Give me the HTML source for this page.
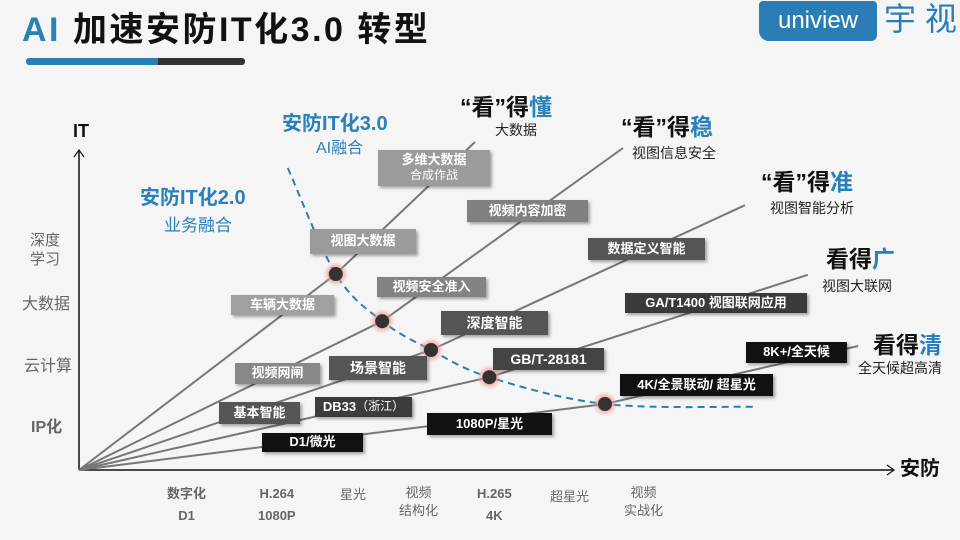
<!DOCTYPE html>
<html><head><meta charset="utf-8">
<style>
html,body{margin:0;padding:0;}
body{width:960px;height:540px;background:#f5f5f5;position:relative;overflow:hidden;font-family:"Liberation Sans","Noto Sans CJK SC",sans-serif;}
.t{position:absolute;white-space:nowrap;line-height:1;}
.box{position:absolute;color:#fff;font-weight:bold;font-size:13px;display:flex;align-items:center;justify-content:center;box-shadow:2px 2px 3px rgba(0,0,0,0.35);white-space:nowrap;line-height:1.15;text-align:center;}
.blue{color:#2a80b9;}
.head{font-weight:bold;font-size:23px;color:#111;}
.sub{font-size:14px;color:#222;}
.ax{color:#666;font-size:15px;text-align:center;}
</style></head><body>
<div class="t" style="left:22px;top:13px;font-size:34px;font-weight:bold;color:#111;letter-spacing:2.5px;"><span class="blue">AI</span> 加速安防IT化3.0 转型</div>
<div style="position:absolute;left:26px;top:58px;width:132px;height:7px;background:#2a7db5;border-radius:3px 0 0 3px;"></div>
<div style="position:absolute;left:158px;top:58px;width:87px;height:7px;background:#333;border-radius:0 3px 3px 0;"></div>
<div style="position:absolute;left:759px;top:1px;width:118px;height:40px;background:#2a7db5;border-radius:4px 4px 6px 10px;color:#fff;font-size:24px;display:flex;align-items:center;justify-content:center;">uniview</div>
<div class="t" style="left:884px;top:3px;font-size:32px;color:#2a7db5;">宇 视</div>

<svg id="chart" width="960" height="540" style="position:absolute;left:0;top:0;">
<defs><radialGradient id="glow"><stop offset="45%" stop-color="#e88" stop-opacity="0.8"/><stop offset="100%" stop-color="#f5b5b5" stop-opacity="0"/></radialGradient></defs>
<line x1="79" y1="470" x2="79" y2="150" stroke="#111" stroke-width="1.5"/>
<polyline points="74,157 79,150 84,157" fill="none" stroke="#111" stroke-width="1.2"/>
<line x1="79" y1="470" x2="893" y2="470" stroke="#111" stroke-width="1.5"/>
<polyline points="887,465 894,470 887,475" fill="none" stroke="#111" stroke-width="1.2"/>
<g id="lines"></g><g id="curve"></g><g id="dots"></g>
</svg>

<div class="t" style="left:73px;top:122px;font-size:18px;font-weight:bold;color:#111;">IT</div>
<div class="t" style="left:900px;top:459px;font-size:20px;font-weight:bold;color:#111;">安防</div>

<div class="t ax" style="left:30px;top:231px;line-height:19px;">深度<br>学习</div>
<div class="t ax" style="left:22px;top:297px;font-size:16px;">大数据</div>
<div class="t ax" style="left:24px;top:359px;font-size:16px;">云计算</div>
<div class="t ax" style="left:31px;top:420px;font-weight:bold;font-size:16px;">IP化</div>

<div class="t ax" style="left:167px;top:483px;font-size:13px;line-height:22px;font-weight:bold;">数字化<br>D1</div>
<div class="t ax" style="left:258px;top:483px;font-size:13px;line-height:22px;font-weight:bold;">H.264<br>1080P</div>
<div class="t ax" style="left:340px;top:488px;font-size:13px;">星光</div>
<div class="t ax" style="left:399px;top:484px;font-size:13px;line-height:18px;">视频<br>结构化</div>
<div class="t ax" style="left:477px;top:483px;font-size:13px;line-height:22px;font-weight:bold;">H.265<br>4K</div>
<div class="t ax" style="left:550px;top:490px;font-size:13px;">超星光</div>
<div class="t ax" style="left:624px;top:484px;font-size:13px;line-height:18px;">视频<br>实战化</div>

<div class="t blue" style="left:282px;top:114px;font-size:20px;font-weight:bold;">安防IT化3.0</div>
<div class="t blue" style="left:316px;top:141px;font-size:16px;">AI融合</div>
<div class="t blue" style="left:140px;top:188px;font-size:20px;font-weight:bold;">安防IT化2.0</div>
<div class="t blue" style="left:164px;top:217px;font-size:17px;">业务融合</div>

<div class="t head" style="left:460px;top:96px;">“看”得<span class="blue">懂</span></div>
<div class="t sub" style="left:495px;top:123px;">大数据</div>
<div class="t head" style="left:621px;top:116px;">“看”得<span class="blue">稳</span></div>
<div class="t sub" style="left:632px;top:146px;">视图信息安全</div>
<div class="t head" style="left:761px;top:171px;">“看”得<span class="blue">准</span></div>
<div class="t sub" style="left:770px;top:201px;">视图智能分析</div>
<div class="t head" style="left:826px;top:248px;">看得<span class="blue">广</span></div>
<div class="t sub" style="left:822px;top:279px;">视图大联网</div>
<div class="t head" style="left:873px;top:334px;">看得<span class="blue">清</span></div>
<div class="t sub" style="left:858px;top:361px;">全天候超高清</div>

<div class="box" style="left:378px;top:150px;width:112px;height:36px;background:#9b9b9b;"><div>多维大数据<br><span style="font-weight:normal;font-size:12px">合成作战</span></div></div>
<div class="box" style="left:467px;top:200px;width:121px;height:22px;background:#808080;">视频内容加密</div>
<div class="box" style="left:310px;top:229px;width:106px;height:25px;background:#9b9b9b;">视图大数据</div>
<div class="box" style="left:588px;top:238px;width:117px;height:22px;background:#555;">数据定义智能</div>
<div class="box" style="left:377px;top:277px;width:109px;height:20px;background:#838383;">视频安全准入</div>
<div class="box" style="left:231px;top:295px;width:103px;height:20px;background:#a0a0a0;">车辆大数据</div>
<div class="box" style="left:625px;top:293px;width:182px;height:20px;background:#3a3a3a;">GA/T1400 视图联网应用</div>
<div class="box" style="left:441px;top:311px;width:107px;height:24px;background:#555;font-size:14px;">深度智能</div>
<div class="box" style="left:493px;top:348px;width:111px;height:22px;background:#444;font-size:14px;">GB/T-28181</div>
<div class="box" style="left:235px;top:363px;width:85px;height:21px;background:#888;">视频网闸</div>
<div class="box" style="left:329px;top:356px;width:98px;height:24px;background:#555;font-size:14px;">场景智能</div>
<div class="box" style="left:746px;top:342px;width:101px;height:21px;background:#111;">8K+/全天候</div>
<div class="box" style="left:620px;top:374px;width:153px;height:22px;background:#111;">4K/全景联动/ 超星光</div>
<div class="box" style="left:219px;top:402px;width:81px;height:22px;background:#555;">基本智能</div>
<div class="box" style="left:315px;top:397px;width:97px;height:20px;background:#3c3c3c;">DB33<span style="font-weight:normal;font-size:12px">（浙江）</span></div>
<div class="box" style="left:427px;top:413px;width:125px;height:22px;background:#111;">1080P/星光</div>
<div class="box" style="left:262px;top:433px;width:101px;height:19px;background:#111;">D1/微光</div>

<script>
// Data coords: x 0..100 (security evolution), y 0..50 (IT level)
const lineNames = ['understand','stable','accurate','wide','clear'];
const markerX = [32.1, 37.9, 44.0, 51.3, 65.75];
const markerY = [24.5, 18.6, 15.0, 11.6, 8.25];
const endX = [49.5, 68.0, 83.25, 91.1, 97.4];
const endY = [41.0, 40.25, 33.1, 24.4, 15.5];
const curveX = [26.1, 32.1, 37.9, 44.0, 51.3, 65.75, 84.5];
const curveY = [37.75, 24.5, 18.6, 15.0, 11.6, 8.25, 7.9];

const X0 = 79, Y0 = 470, SX = 8, SY = 8;
function xs(v){ return X0 + v*SX; }
function ys(v){ return Y0 - v*SY; }
const NS = 'http://www.w3.org/2000/svg';
const gl = document.getElementById('lines');
const gd = document.getElementById('dots');
const gc = document.getElementById('curve');
for (let i=0;i<lineNames.length;i++){
  const p = document.createElementNS(NS,'polyline');
  p.setAttribute('points', xs(0)+','+ys(0)+' '+xs(markerX[i])+','+ys(markerY[i])+' '+xs(endX[i])+','+ys(endY[i]));
  p.setAttribute('fill','none');p.setAttribute('stroke','#777');p.setAttribute('stroke-width','2');
  
  
  gl.appendChild(p);
  const g = document.createElementNS(NS,'circle');
  g.setAttribute('cx',xs(markerX[i]));g.setAttribute('cy',ys(markerY[i]));g.setAttribute('r','13');g.setAttribute('fill','url(#glow)');
  
  
  gd.appendChild(g);
  const c = document.createElementNS(NS,'circle');
  c.setAttribute('cx',xs(markerX[i]));c.setAttribute('cy',ys(markerY[i]));c.setAttribute('r','7');c.setAttribute('fill','#333');
  
  
  gd.appendChild(c);
}
// Catmull-Rom smooth dashed curve
const pts = curveX.map((v,i)=>[xs(v),ys(curveY[i])]);
let d = 'M'+pts[0][0]+','+pts[0][1];
for (let i=0;i<pts.length-1;i++){
  const p0=pts[Math.max(0,i-1)],p1=pts[i],p2=pts[i+1],p3=pts[Math.min(pts.length-1,i+2)];
  const c1=[p1[0]+(p2[0]-p0[0])/6,p1[1]+(p2[1]-p0[1])/6];
  const c2=[p2[0]-(p3[0]-p1[0])/6,p2[1]-(p3[1]-p1[1])/6];
  d+=' C'+c1[0]+','+c1[1]+' '+c2[0]+','+c2[1]+' '+p2[0]+','+p2[1];
}
const cp = document.createElementNS(NS,'path');
cp.setAttribute('d',d);cp.setAttribute('fill','none');cp.setAttribute('stroke','#2a7db5');cp.setAttribute('stroke-width','2');cp.setAttribute('stroke-dasharray','7,5');


gc.appendChild(cp);
</script>
</body></html>
